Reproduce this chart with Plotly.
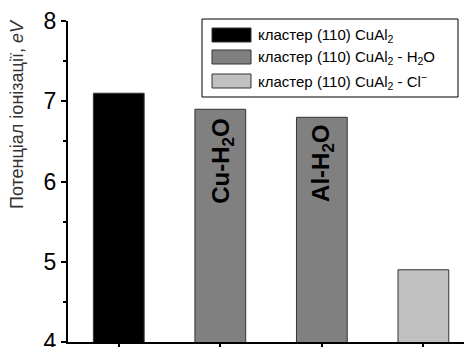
import plotly.graph_objects as go

categories = [0, 1, 2, 3]
values = [7.1, 6.9, 6.8, 4.9]
bar_colors = ["#000000", "#808080", "#808080", "#c0c0c0"]
legend_labels = [
    "кластер (110) CuAl<sub>2</sub>",
    "кластер (110) CuAl<sub>2</sub> - H<sub>2</sub>O",
    "кластер (110) CuAl<sub>2</sub> - Cl<sup>−</sup>",
]
legend_colors = ["#000000", "#808080", "#c0c0c0"]
inner_labels = ["Cu-H<sub>2</sub>O", "Al-H<sub>2</sub>O"]
inner_pos = [(1.02, 6.25), (2.0, 6.23)]
y_ticks = [4, 5, 6, 7, 8]

FONT = "Liberation Sans, Arial, sans-serif"

fig = go.Figure()
fig.add_trace(go.Bar(
    x=categories, y=values, width=0.5,
    marker=dict(color=bar_colors, line=dict(color="#333333", width=1)),
    showlegend=False,
))

W, H = 464, 347
L, R, T, B = 68, 0, 21, 5
pw, ph = W - L - R, H - T - B

def px(x):
    return (x - L) / pw

def py(y):
    return 1 - (y - T) / ph

shapes = []
annotations = []
# legend box
shapes.append(dict(type="rect", xref="paper", yref="paper",
                   x0=px(202), x1=px(458), y0=py(97), y1=py(19),
                   line=dict(color="#000000", width=1), fillcolor="white"))
rows = [35, 57, 81]
for lab, col, yc in zip(legend_labels, legend_colors, rows):
    shapes.append(dict(type="rect", xref="paper", yref="paper",
                       x0=px(212), x1=px(251), y0=py(yc + 7), y1=py(yc - 7),
                       line=dict(color="#333333", width=1), fillcolor=col))
    annotations.append(dict(text=lab, xref="paper", yref="paper",
                            x=px(256), y=py(yc), xanchor="left", yanchor="middle",
                            showarrow=False,
                            font=dict(family=FONT, size=15, color="#000000")))

for lab, (xc, yc) in zip(inner_labels, inner_pos):
    annotations.append(dict(text="<b>" + lab + "</b>", x=xc, y=yc, xref="x", yref="y",
                            textangle=-90, showarrow=False,
                            font=dict(family=FONT, size=24, color="#000000")))

annotations.append(dict(text="Потенціал іонізації, <i>eV</i>", xref="paper", yref="paper",
                        x=px(17), y=py(114), xanchor="center", yanchor="middle",
                        textangle=-90, showarrow=False,
                        font=dict(family=FONT, size=18, color="#333333")))

fig.update_layout(
    width=W, height=H,
    margin=dict(l=L, r=R, t=T, b=B, pad=0, autoexpand=False),
    paper_bgcolor="white", plot_bgcolor="white",
    shapes=shapes, annotations=annotations,
    bargap=0.5,
    font=dict(family=FONT, color="#000000"),
    xaxis=dict(range=[-0.5, 3.4], tickvals=categories, ticktext=["", "", "", ""],
               showline=True, linecolor="#000000", linewidth=2,
               ticks="outside", ticklen=5, tickwidth=1.5, tickcolor="#000000",
               showgrid=False, zeroline=False, fixedrange=True, automargin=False),
    yaxis=dict(range=[4, 8], tickvals=y_ticks,
               showline=True, linecolor="#000000", linewidth=2,
               ticks="outside", ticklen=5, tickwidth=1.5, tickcolor="#000000",
               tickfont=dict(family=FONT, size=23, color="#000000"),
               ticklabeloverflow="allow",
               minor=dict(dtick=0.5, ticks="outside", ticklen=3, tickwidth=1.5, tickcolor="#000000"),
               showgrid=False, zeroline=False, fixedrange=True, automargin=False),
)

fig.write_html("out.html", config={"displayModeBar": False},
               post_script="document.body.style.margin='0';document.body.style.overflow='hidden';")
